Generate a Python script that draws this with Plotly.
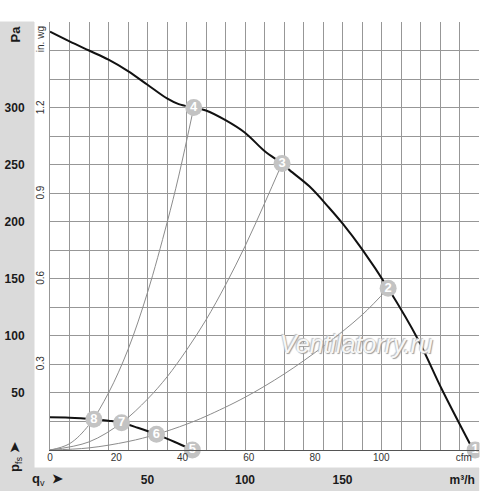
import plotly.graph_objects as go

# ---- data (q in m³/h, p in Pa) ----
fan_q = [0, 10, 20, 30, 40, 50, 60, 66, 73.7, 80, 90, 100, 110, 119, 123, 133, 143, 150, 160, 173.4, 189, 201, 217]
fan_p = [366.5, 358, 350, 342, 332, 320, 308, 303, 300, 297.5, 289, 278, 262, 251, 245, 231, 212.5, 198.5, 176, 141.7, 96, 53, 0]

low_q = [0, 10, 22.5, 30, 36.7, 45, 54.6, 64, 73]
low_p = [28.6, 28.3, 26.9, 25.6, 23.9, 19.5, 13.7, 7, 0]

sysA_q = [0, 10, 20, 30, 40, 50, 60, 66, 73.7]
sysA_p = [0, 5.5, 22, 50, 88, 138, 199, 240, 300]
sysB_q = [0, 20, 36.7, 50, 60, 70, 80, 90, 100, 110, 119]
sysB_p = [0, 7.1, 23.9, 44.6, 64, 87.5, 114, 144.6, 178.5, 216, 251]
sysC_q = [0, 20, 40, 54.6, 70, 80, 100, 120, 140, 160, 173.4]
sysC_p = [0, 1.85, 7.4, 13.7, 22.6, 29.6, 46.2, 66.5, 90.6, 118.3, 141.7]

pt_q = [218, 173.4, 119, 73.7, 73, 54.6, 36.7, 22.5]
pt_p = [0, 141.7, 251, 300, 0, 13.7, 23.9, 26.9]
pt_lbl = ["1", "2", "3", "4", "5", "6", "7", "8"]

m3h_ticks = [50, 100, 150]
cfm_ticks = [0, 20, 40, 60, 80, 100]
pa_ticks = [50, 100, 150, 200, 250, 300]
inwg_ticks = [0.3, 0.6, 0.9, 1.2]

Q_MAX = 220
P_MAX = 375
CFM_PER_M3H = 1 / 1.699
INWG_PER_PA = 1 / 249.089

FONT = "Liberation Sans, Arial, sans-serif"

fig = go.Figure()

for q, p in [(sysA_q, sysA_p), (sysB_q, sysB_p), (sysC_q, sysC_p)]:
    fig.add_trace(go.Scatter(x=q, y=p, mode="lines", line=dict(color="#8c8c8c", width=1, shape="spline"),
                             hoverinfo="skip", showlegend=False))

fig.add_trace(go.Scatter(x=fan_q, y=fan_p, mode="lines", line=dict(color="#111", width=2, shape="spline"),
                         showlegend=False))
fig.add_trace(go.Scatter(x=low_q, y=low_p, mode="lines", line=dict(color="#111", width=2, shape="spline"),
                         showlegend=False))

fig.add_trace(go.Scatter(x=pt_q, y=pt_p, mode="markers+text", text=[f"<b>{t}</b>" for t in pt_lbl],
                         textposition="middle center",
                         textfont=dict(family=FONT, size=13, color="white"),
                         marker=dict(size=17, color="#c3c3c3", line=dict(width=0)),
                         cliponaxis=False, showlegend=False))

grid_x = list(range(0, Q_MAX + 1, 10))
grid_y = list(range(0, P_MAX + 1, 25))

PW, PH = 429.3, 428.0
def to_px(x): return (x - 50) / PW
def to_py(y): return (450 - y) / PH

band = "#dadada"
shapes = [
    dict(type="rect", xref="paper", yref="paper", x0=to_px(0), x1=to_px(34), y0=to_py(491), y1=to_py(22),
         fillcolor=band, line=dict(color=band, width=1), layer="below"),
    dict(type="rect", xref="paper", yref="paper", x0=to_px(0), x1=to_px(479.3), y0=to_py(491), y1=to_py(468),
         fillcolor=band, line=dict(color=band, width=1), layer="below"),
    dict(type="rect", xref="paper", yref="paper", x0=to_px(479.8), x1=to_px(500), y0=to_py(491), y1=to_py(0),
         fillcolor="white", line=dict(width=0), layer="above"),
]

annotations = [
    dict(xref="paper", yref="paper", x=to_px(15), y=to_py(34.5), text="<b>Pa</b>", showarrow=False,
         xanchor="center", yanchor="middle", textangle=-90, font=dict(size=13, color="#1a1a1a")),
    dict(xref="paper", yref="paper", x=to_px(15), y=to_py(457), text="<b>p</b><sub>fs</sub> <b>➤</b>",
         xanchor="center", yanchor="middle", showarrow=False, textangle=-90, font=dict(size=13, color="#1a1a1a")),
    dict(xref="paper", yref="paper", x=to_px(47), y=to_py(479), text="<b>q</b><sub>v</sub>  <b>➤</b>",
         xanchor="center", yanchor="middle", showarrow=False, font=dict(size=13, color="#1a1a1a")),
    dict(xref="x", yref="y", x=157.1, y=92.5, text="Ventilatorry.ru", showarrow=False,
         xanchor="center", yanchor="middle",
         font=dict(size=25, color="#f7f7f7", style="italic",
                   shadow="1px 1px 1px #9c9c9c, -1px -1px 1px #c0c0c0")),
]

fig.update_layout(
    template="none",
    width=500, height=491,
    margin=dict(l=50, r=20.7, t=22, b=41, autoexpand=False),
    paper_bgcolor="white", plot_bgcolor="white",
    font=dict(family=FONT, color="#1a1a1a"),
    showlegend=False,
    shapes=shapes,
    annotations=annotations,
    xaxis=dict(range=[0, Q_MAX], tickvals=grid_x, showticklabels=False, showgrid=True,
               gridcolor="#979797", gridwidth=1, zeroline=False, showline=True, linecolor="#555",
               linewidth=1, mirror=False, ticks="", automargin=False),
    yaxis=dict(range=[0, P_MAX], tickvals=grid_y,
               ticktext=[f"<b>{v}</b>" if v in pa_ticks else "" for v in grid_y],
               tickfont=dict(size=12, color="#1a1a1a"),
               ticks="outside", ticklen=22, tickcolor="rgba(0,0,0,0)",
               showgrid=True, gridcolor="#979797", gridwidth=1, zeroline=False,
               showline=True, linecolor="#979797", linewidth=1, automargin=False),
    xaxis2=dict(overlaying="x", anchor="y", side="bottom", range=[0, Q_MAX],
                tickvals=m3h_ticks + [211.4],
                ticktext=[f"<b>{v}</b>" for v in m3h_ticks] + ["<b>m³/h</b>"],
                tickfont=dict(size=12, color="#1a1a1a"),
                ticks="outside", ticklen=19, tickcolor="rgba(0,0,0,0)",
                showgrid=False, zeroline=False, showline=False, automargin=False),
    xaxis3=dict(overlaying="x", anchor="y", side="bottom", range=[0, Q_MAX * CFM_PER_M3H],
                tickvals=cfm_ticks + [124.9],
                ticktext=[str(v) for v in cfm_ticks] + ["cfm"],
                tickfont=dict(size=10, color="#333"),
                ticks="", showgrid=False, zeroline=False, showline=False, automargin=False),
    yaxis2=dict(overlaying="y", anchor="x", side="left", range=[0, P_MAX * INWG_PER_PA],
                tickvals=inwg_ticks + [1.44],
                ticktext=[f"{v:.1f}" for v in inwg_ticks] + ["in. wg"],
                tickfont=dict(size=10, color="#333"), tickangle=-90,
                ticks="outside", ticklen=1, tickcolor="rgba(0,0,0,0)",
                showgrid=False, zeroline=False, showline=False, automargin=False),
)

fig.add_trace(go.Scatter(x=[0], y=[0], xaxis="x2", yaxis="y", mode="markers",
                         marker=dict(opacity=0), hoverinfo="skip", showlegend=False))
fig.add_trace(go.Scatter(x=[0], y=[0], xaxis="x3", yaxis="y", mode="markers",
                         marker=dict(opacity=0), hoverinfo="skip", showlegend=False))
fig.add_trace(go.Scatter(x=[0], y=[0], xaxis="x", yaxis="y2", mode="markers",
                         marker=dict(opacity=0), hoverinfo="skip", showlegend=False))

fig.write_html("out.html", config={"displayModeBar": False},
               post_script="document.body.style.margin='0';document.body.style.padding='0';")
